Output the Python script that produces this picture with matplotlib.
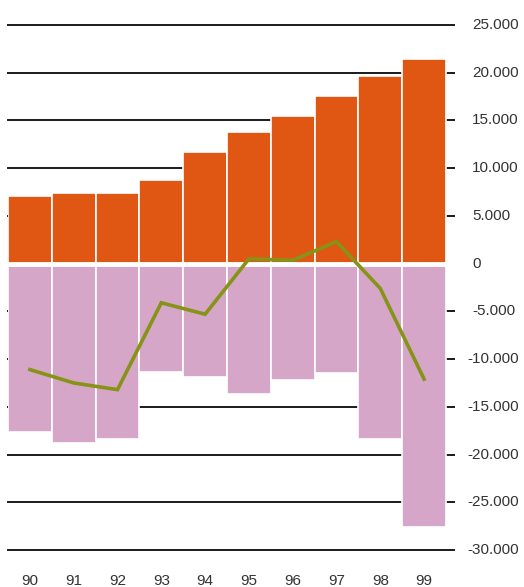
import matplotlib.pyplot as plt

# Data
years = ["90", "91", "92", "93", "94", "95", "96", "97", "98", "99"]
positive = [7100, 7400, 7400, 8800, 11700, 13800, 15500, 17600, 19700, 21400]
negative = [-17600, -18800, -18400, -11300, -11900, -13700, -12200, -11500, -18400, -27600]
balance = [-11100, -12500, -13200, -4100, -5300, 500, 350, 2300, -2600, -12100]
yticks = [25000, 20000, 15000, 10000, 5000, 0, -5000, -10000, -15000, -20000, -25000, -30000]

plt.rcParams["font.family"] = ["Liberation Sans", "DejaVu Sans"]

fig = plt.figure(figsize=(5.24, 5.87), dpi=100)
ax = fig.add_axes([8 / 524, 37 / 587, 446 / 524, 525 / 587])

x = list(range(len(years)))

# Gridlines behind the bars
for t in yticks:
    if t != 0:
        ax.axhline(t, color="#1a1a1a", lw=1.4, zorder=-1, clip_on=False)

# white edges give the gaps between bars (and hide the grid there)
ax.bar(x, positive, width=1.0, color="#E05713", edgecolor="white", lw=1.2, zorder=2)
ax.bar(x, negative, width=1.0, color="#D5A6C8", edgecolor="white", lw=1.2, zorder=2)
ax.axhline(0, color="white", lw=3.5, zorder=3)
ax.plot(x, balance, color="#879316", lw=2.6, zorder=4, solid_joinstyle="miter")

ax.set_xlim(-0.5, 9.5 + 8 / 43.8)
ax.set_ylim(-30000, 25000)
for s in ax.spines.values():
    s.set_visible(False)
ax.set_yticks([])
ax.set_xticks(x)
ax.set_xticklabels(years, fontsize=11, color="#333333")
ax.tick_params(axis="x", length=0, pad=17)

# Value labels on the right, formatted with a period as thousands separator
trans = ax.get_yaxis_transform()
for t in yticks:
    label = f"{t:,}".replace(",", ".")
    if len(label) >= 7:
        ax.text(511 / 446, t, label, transform=trans, ha="right", va="center",
                fontsize=11, color="#333333")
    else:
        ax.text(464 / 446, t, label, transform=trans, ha="left", va="center",
                fontsize=11, color="#333333")

fig.savefig("out.png", dpi=100)
